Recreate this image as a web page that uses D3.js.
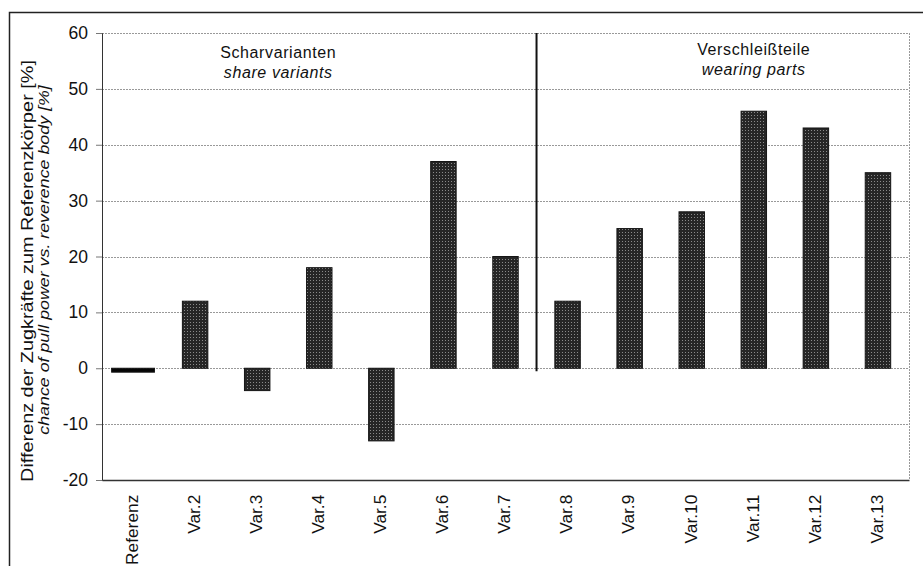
<!DOCTYPE html>
<html>
<head>
<meta charset="utf-8">
<script src="https://cdn.jsdelivr.net/npm/d3@7"></script>
<style>
  body { margin: 0; background: #fff; }
  text { font-family: "Liberation Sans", Arial, sans-serif; fill: #111; }
</style>
</head>
<body>
<svg id="chart" width="923" height="566"></svg>
<script>
const categories = ["Referenz", "Var.2", "Var.3", "Var.4", "Var.5", "Var.6", "Var.7",
  "Var.8", "Var.9", "Var.10", "Var.11", "Var.12", "Var.13"];
const values = [-0.7, 12, -4, 18, -13, 37, 20, 12, 25, 28, 46, 43, 35];
const yTicks = [-20, -10, 0, 10, 20, 30, 40, 50, 60];
const groups = [
  { de: "Scharvarianten", en: "share variants", from: "Referenz", to: "Var.7" },
  { de: "Verschleißteile", en: "wearing parts", from: "Var.8", to: "Var.13" }
];
const yLabelDe = "Differenz der Zugkräfte zum Referenzkörper [%]";
const yLabelEn = "chance of pull power vs. reverence body [%]";

const svg = d3.select("#chart"),
  margin = { top: 33, right: 14, bottom: 86, left: 102 },
  width = 923 - margin.left - margin.right,
  height = 566 - margin.top - margin.bottom;

// halftone-ish fill like the scanned original
const defs = svg.append("defs");
const pat = defs.append("pattern")
  .attr("id", "halftone")
  .attr("width", 3)
  .attr("height", 3)
  .attr("patternUnits", "userSpaceOnUse");
pat.append("rect").attr("width", 3).attr("height", 3).attr("fill", "#262626");
pat.append("rect").attr("x", 1).attr("y", 1).attr("width", 1).attr("height", 1).attr("fill", "#8a8a8a");

// outer frame (only top, left, right visible)
svg.append("path")
  .attr("d", "M9.5,566V12.5H923")
  .attr("fill", "none")
  .attr("stroke", "#222")
  .attr("stroke-width", 1.5);

const g = svg.append("g")
  .attr("transform", `translate(${margin.left},${margin.top})`);

const x = d3.scaleBand().domain(categories).range([0, width]).padding(0);
const y = d3.scaleLinear().domain([-20, 60]).range([height, 0]);

// gridlines
g.append("g")
  .selectAll("line")
  .data(yTicks.filter((t) => t > -20))
  .join("line")
  .attr("x1", 0)
  .attr("x2", width)
  .attr("y1", (d) => Math.round(y(d)) + 0.5)
  .attr("y2", (d) => Math.round(y(d)) + 0.5)
  .attr("stroke", "#999")
  .attr("stroke-dasharray", "2,1");

// right border dotted
g.append("line")
  .attr("x1", width + 0.5).attr("x2", width + 0.5)
  .attr("y1", 0).attr("y2", height)
  .attr("stroke", "#999")
  .attr("stroke-dasharray", "2,1");

// y axis (plain hyphen for negatives, as in the original)
const yAxis = g.append("g")
  .call(d3.axisLeft(y).tickValues(yTicks).tickSize(6).tickPadding(8)
    .tickFormat((d) => String(d)));
yAxis.select(".domain").attr("stroke", "#333");
yAxis.selectAll(".tick line").attr("stroke", "#777");
yAxis.selectAll("text")
  .style("font-size", "17.5px")
  .attr("fill", "#111");

// x axis at bottom
const xAxis = g.append("g")
  .attr("transform", `translate(0,${height})`)
  .call(d3.axisBottom(x).tickSize(0));
xAxis.select(".domain").attr("stroke", "#333").attr("stroke-width", 1.5);
xAxis.selectAll("text")
  .style("font-size", "16.5px")
  .attr("fill", "#111")
  .attr("transform", "rotate(-90) scale(1.05,1)")
  .attr("text-anchor", "end")
  .attr("x", -14)
  .attr("dy", "0.35em")
  .attr("y", -1);

// bars
const barShare = 0.41, refShare = 0.69;
g.append("g")
  .selectAll("rect")
  .data(categories.map((c, i) => ({ c, v: values[i], ref: i === 0 })))
  .join("rect")
  .attr("x", (d) => x(d.c) + (x.bandwidth() * (1 - (d.ref ? refShare : barShare))) / 2)
  .attr("width", (d) => x.bandwidth() * (d.ref ? refShare : barShare))
  .attr("y", (d) => y(Math.max(0, d.v)))
  .attr("height", (d) => Math.abs(y(d.v) - y(0)))
  .attr("fill", (d) => (d.ref ? "#050505" : "url(#halftone)"))
  .attr("stroke", "#151515")
  .attr("stroke-width", 1);

// group divider
const divX = x(groups[1].from);
g.append("line")
  .attr("x1", divX).attr("x2", divX)
  .attr("y1", 0).attr("y2", y(0) + 3)
  .attr("stroke", "#111")
  .attr("stroke-width", 2);

// group titles
const titleOffset = [-41, 31];
const titleBase = [25, 22];
groups.forEach((gr, i) => {
  const cx = (x(gr.from) + x(gr.to) + x.bandwidth()) / 2 + titleOffset[i];
  g.append("text")
    .attr("x", cx)
    .attr("y", titleBase[i])
    .attr("text-anchor", "middle")
    .style("font-size", "16px")
    .style("letter-spacing", "0.6px")
    .text(gr.de);
  g.append("text")
    .attr("x", cx)
    .attr("y", titleBase[i] + 19.5)
    .attr("text-anchor", "middle")
    .style("font-size", "16px")
    .style("letter-spacing", "0.6px")
    .style("font-style", "italic")
    .text(gr.en);
});

// y axis label
svg.append("text")
  .attr("transform", "translate(27,271) rotate(-90) scale(1.24,1)")
  .attr("text-anchor", "middle")
  .attr("dy", "0.35em")
  .style("font-size", "16px")
  .text(yLabelDe);
svg.append("text")
  .attr("transform", "translate(44,260) rotate(-90) scale(1.15,1)")
  .attr("text-anchor", "middle")
  .attr("dy", "0.35em")
  .style("font-size", "15.5px")
  .style("font-style", "italic")
  .text(yLabelEn);
</script>
</body>
</html>
